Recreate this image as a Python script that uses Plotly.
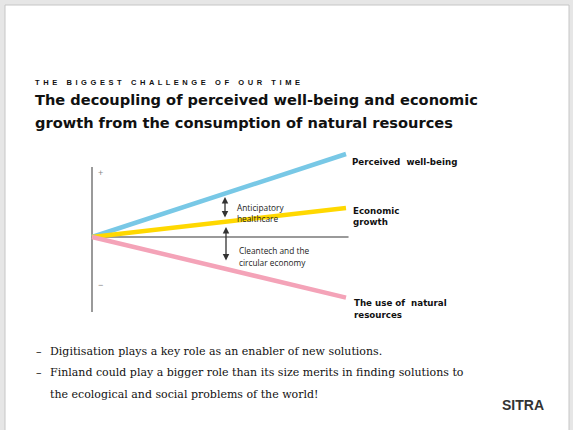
import plotly.graph_objects as go

# ---- data ----
x_vals = [0, 1]
series_names = ["Perceived well-being", "Economic growth", "The use of natural resources"]
wellbeing = [0, 1.0]
growth = [0, 0.35]
resources = [0, -0.73]
series_values = [wellbeing, growth, resources]
series_colors = ["#78C8E6", "#FFD800", "#F4A3B8"]

W, H = 573, 430
X0PX, X1PX, Y0PX, UNIT = 92, 346, 237, 83.0

def px(x):
    return x / W

def py(y):
    return 1 - y / H

fig = go.Figure()
for name, vals, col in zip(series_names, series_values, series_colors):
    fig.add_trace(go.Scatter(x=x_vals, y=vals, mode="lines", name=name,
                             line=dict(color=col, width=4.5), hoverinfo="skip"))

shapes = [
    dict(type="rect", xref="paper", yref="paper", x0=px(5), x1=px(569), y0=-0.02, y1=py(5),
         fillcolor="white", line=dict(color="#c6c6c6", width=1), layer="below"),
    # axes
    dict(type="line", xref="x", yref="y", x0=0, x1=0, y0=(Y0PX - 167) / UNIT, y1=(Y0PX - 312) / UNIT,
         line=dict(color="#9a9a9a", width=2), layer="below"),
    dict(type="line", xref="x", yref="y", x0=0, x1=1.01, y0=0, y1=0,
         line=dict(color="#9a9a9a", width=2), layer="below"),
]

ann = []
def text(x, y, s, size, color="#111", family="Liberation Sans", anchor="left", bold=False):
    if bold:
        s = "<b>" + s + "</b>"
    ann.append(dict(xref="paper", yref="paper", x=px(x), y=py(y), text=s, showarrow=False,
                    xanchor=anchor, yanchor="middle", align="left",
                    font=dict(size=size, color=color, family=family)))

sub = "THE BIGGEST CHALLENGE OF OUR TIME"
sub_spaced = " &#8201;".join("&nbsp;" if c == " " else c for c in sub)
text(33, 82, sub_spaced, 7.5, bold=True)
tf = "DejaVu Sans"
text(33, 100, "The decoupling of perceived well-being and economic", 14.6, family=tf, bold=True)
text(33, 123, "growth from the consumption of natural resources", 14.6, family=tf, bold=True)

text(96, 173, "+", 9, color="#888")
text(96, 285, "−", 9, color="#888")

lab_font = "DejaVu Sans"
text(350, 162, "Perceived&nbsp; well-being", 8.7, family=lab_font, bold=True)
text(351, 211, "Economic", 8.7, family=lab_font, bold=True)
text(351, 222, "growth", 8.7, family=lab_font, bold=True)
text(352, 303, "The use of&nbsp; natural", 8.7, family=lab_font, bold=True)
text(352, 315, "resources", 8.7, family=lab_font, bold=True)

af = "Open Sans"
text(235, 207, "Anticipatory", 8.3, color="#222", family=af)
text(235, 218, "healthcare", 8.3, color="#222", family=af)
text(237, 250, "Cleantech and the", 8.3, color="#222", family=af)
text(237, 262, "circular economy", 8.3, color="#222", family=af)

sf = "DejaVu Serif"
text(34, 351, "–", 11, family=sf)
text(34, 372, "–", 11, family=sf)
text(48, 351, "Digitisation plays a key role as an enabler of new solutions.", 11, family=sf)
text(48, 372, "Finland could play a bigger role than its size merits in finding solutions to", 11, family=sf)
text(48, 394, "the ecological and social problems of the world!", 11, family=sf)

text(546, 405, "SITRA", 14, color="#333", anchor="right", bold=True)

# double-headed arrows
for (y_a, y_b, xa) in [(197, 219, 225), (227, 262, 226)]:
    xd = (xa - X0PX) / (X1PX - X0PX)
    ann.append(dict(xref="x", yref="y", axref="x", ayref="y",
                    x=xd, y=(Y0PX - y_a) / UNIT, ax=xd, ay=(Y0PX - y_b) / UNIT,
                    text="", showarrow=True, arrowhead=2, arrowside="end+start",
                    arrowsize=1, arrowwidth=1.3, arrowcolor="#333"))

span = X1PX - X0PX
fig.update_layout(
    width=W, height=H, margin=dict(l=0, r=0, t=0, b=0),
    paper_bgcolor="#e6e6e6", plot_bgcolor="rgba(0,0,0,0)",
    showlegend=False, shapes=shapes, annotations=ann,
    xaxis=dict(range=[-X0PX / span, (W - X0PX) / span], visible=False, fixedrange=True),
    yaxis=dict(range=[-(H - Y0PX) / UNIT, Y0PX / UNIT], visible=False, fixedrange=True),
)
fig.write_html("out.html", config={"displayModeBar": False, "staticPlot": True},
               post_script="document.body.style.margin='0';document.body.style.overflow='hidden';")
